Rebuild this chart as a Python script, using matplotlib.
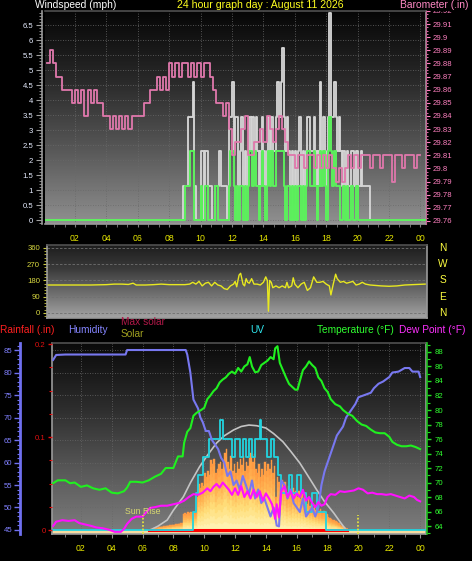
import numpy as np
import matplotlib
matplotlib.use('Agg')
import matplotlib.pyplot as plt
from matplotlib.colors import LinearSegmentedColormap
from matplotlib.ticker import MultipleLocator, FixedLocator, FuncFormatter, NullFormatter
from matplotlib.collections import PolyCollection
import matplotlib.transforms as mtransforms

plt.rcParams['font.family'] = ['Liberation Sans', 'DejaVu Sans']

# ---------------- data ----------------
hour_ticks = [2, 4, 6, 8, 10, 12, 14, 16, 18, 20, 22, 24]
hour_labels = ['02', '04', '06', '08', '10', '12', '14', '16', '18', '20', '22', '00']
day_start = 0.1
day_end = 24.3

# wind (mph), sampled every 0.1 h from 8.9 h; calm outside this window
wind_start = 8.9
wind_step = 0.1
gust = [
    1.15, 1.15, 1.15, 3.45, 3.45, 3.45, 4.6, 1.15, 0, 0,
    0, 2.3, 2.3, 0, 2.3, 2.3, 1.15, 1.15, 0, 0,
    1.15, 1.15, 1.15, 2.3, 1.15, 1.15, 1.15, 1.15, 0, 3.45,
    3.45, 4.6, 2.3, 3.45, 3.45, 1.15, 2.3, 3.45, 1.15, 2.3,
    1.15, 2.3, 3.45, 2.3, 3.45, 2.3, 3.45, 2.3, 1.15, 2.3,
    3.45, 2.3, 1.15, 2.3, 3.45, 2.3, 3.45, 2.3, 2.3, 3.45,
    4.6, 3.45, 4.6, 5.75, 3.45, 2.3, 3.45, 2.3, 1.15, 2.3,
    1.15, 2.3, 1.15, 2.3, 3.45, 1.15, 2.3, 1.15, 2.3, 3.45,
    3.45, 2.3, 2.3, 3.45, 2.3, 1.15, 2.3, 4.6, 2.3, 3.45,
    2.3, 1.15, 3.45, 6.9, 3.45, 3.45, 4.6, 3.45, 2.3, 3.45,
    2.3, 1.15, 2.3, 1.15, 2.3, 1.15, 1.15, 2.3, 2.3, 1.15,
    2.3, 1.15, 1.15, 2.3, 1.15, 1.15, 1.15, 1.15, 1.15, 0,
]
speed = [
    0, 1.15, 1.15, 1.15, 2.3, 2.3, 2.3, 0, 0, 0,
    0, 1.15, 0, 0, 1.15, 1.15, 0, 0, 0, 0,
    1.15, 1.15, 0, 0, 0, 0, 0, 0, 0, 1.15,
    2.3, 2.3, 1.15, 0, 1.15, 0, 1.15, 1.15, 0, 1.15,
    0, 1.15, 2.3, 2.3, 1.15, 2.3, 1.15, 1.15, 0, 1.15,
    2.3, 1.15, 0, 1.15, 2.3, 1.15, 2.3, 1.15, 1.15, 2.3,
    2.3, 2.3, 2.3, 2.3, 1.15, 0, 1.15, 1.15, 0, 1.15,
    0, 1.15, 0, 1.15, 1.15, 0, 1.15, 0, 1.15, 2.3,
    2.3, 1.15, 1.15, 2.3, 1.15, 0, 1.15, 2.3, 1.15, 2.3,
    1.15, 0, 2.3, 3.45, 2.3, 1.15, 2.3, 1.15, 1.15, 1.15,
    0, 0, 1.15, 0, 1.15, 0, 0, 1.15, 0, 0,
    1.15, 0, 0, 0, 0, 0, 0, 0, 0, 0,
]

# barometer (in), every 0.2 h from 0.2 h
baro_start = 0.2
baro_step = 0.2
baro = [
    29.88, 29.89, 29.88, 29.87, 29.87, 29.86, 29.86, 29.86, 29.85, 29.86,
    29.85, 29.86, 29.84, 29.86, 29.85, 29.86, 29.85, 29.85, 29.84, 29.84,
    29.83, 29.84, 29.83, 29.84, 29.83, 29.84, 29.83, 29.84, 29.84, 29.84,
    29.84, 29.85, 29.85, 29.86, 29.86, 29.87, 29.86, 29.87, 29.86, 29.88,
    29.87, 29.88, 29.87, 29.88, 29.88, 29.87, 29.88, 29.87, 29.88, 29.87,
    29.88, 29.88, 29.87, 29.86, 29.85, 29.85, 29.84, 29.85, 29.83, 29.81,
    29.82, 29.82, 29.83, 29.84, 29.81, 29.81, 29.82, 29.82, 29.83, 29.82,
    29.84, 29.83, 29.82, 29.83, 29.84, 29.83, 29.82, 29.81, 29.81, 29.80,
    29.81, 29.81, 29.80, 29.81, 29.81, 29.80, 29.81, 29.80, 29.81, 29.80,
    29.81, 29.80, 29.79, 29.80, 29.79, 29.80, 29.81, 29.80, 29.81, 29.80,
    29.81, 29.81, 29.81, 29.80, 29.81, 29.81, 29.80, 29.81, 29.81, 29.81,
    29.79, 29.81, 29.81, 29.80, 29.81, 29.81, 29.81, 29.80, 29.81, 29.81,
]

# wind direction (deg)
dir_t = [0.3, 1, 2, 3, 4, 4.5, 5, 5.4, 5.7, 5.9, 6.5, 7, 7.5, 8, 9, 9.3, 9.5, 9.7, 9.9,
         10.1, 10.3, 10.5, 10.7, 10.9, 11.1, 11.3, 11.5, 11.7, 11.9, 12.1, 12.2, 12.3,
         12.45, 12.55, 12.7, 12.8, 12.9, 13.0, 13.1, 13.25, 13.4, 13.6, 13.8, 14.0, 14.15,
         14.25, 14.32, 14.4, 14.5, 14.6, 14.8, 15.0, 15.2, 15.4, 15.5, 15.6, 15.8, 15.9,
         16.0, 16.2, 16.4, 16.6, 16.8, 17.0, 17.2, 17.4, 17.6, 17.8, 18.0, 18.2, 18.3,
         18.45, 18.6, 18.7, 18.9, 19.1, 19.3, 19.5, 19.7, 19.9, 20.1, 20.3, 20.5, 20.8,
         21.5, 22.0, 22.5, 23.0, 23.5, 24.3]
dir_v = [155, 155, 155, 155, 157, 160, 160, 158, 165, 155, 155, 157, 160, 157, 157, 160, 170, 160, 175,
         150, 165, 170, 150, 170, 155, 150, 135, 130, 150, 160, 175, 145,
         210, 220, 160, 150, 190, 170, 165, 190, 160, 160, 155, 170, 200,
         180, 10, 180, 170, 140, 150, 140, 150, 140, 170, 140, 150, 195,
         160, 140, 160, 170, 125, 140, 200, 170, 170, 175, 160, 150, 100,
         160, 215, 190, 170, 175, 165, 170, 175, 155, 160, 170, 160, 155,
         150, 148, 150, 155, 157, 160]

# humidity (%)
hum_t = [0.2, 0.4, 1, 2, 3, 4, 4.9, 5.0, 6, 7, 8, 8.8, 8.9, 9.0, 9.1, 9.2, 9.3, 9.45, 9.6, 9.75,
         9.9, 10.1, 10.3, 10.5, 10.7, 10.9, 11.1, 11.3, 11.5, 11.7, 11.9, 12.1, 12.3, 12.5,
         12.7, 12.9, 13.1, 13.3, 13.5, 13.7, 13.9, 14.1, 14.3, 14.5, 14.7, 14.85, 15.0, 15.2,
         15.4, 15.6, 15.8, 16.0, 16.2, 16.4, 16.6, 16.8, 17.0, 17.2, 17.4, 17.6, 17.8, 18.0,
         18.2, 18.4, 18.6, 18.8, 19.0, 19.2, 19.4, 19.6, 19.8, 20.0, 20.4, 20.8, 21.0, 21.3,
         21.6, 22.0, 22.2, 22.6, 23.0, 23.3, 23.5, 23.9, 24.0]
hum = [82.8, 83.9, 84, 84, 84, 84, 84, 85, 85, 85, 85, 85, 84, 82, 80, 77, 74, 73, 72, 70,
       69, 67, 67, 65, 64, 63, 61, 60, 57, 58, 55, 56, 54, 57,
       55, 53, 56, 52, 54, 51, 52, 50, 48, 50, 46, 45.8, 56, 55,
       52, 54, 51, 50, 49, 52, 48, 49, 50, 48, 50, 55, 58, 60,
       62, 64, 66, 67, 68, 70, 71, 72, 73, 74.5, 75, 75.5, 76.5, 77.5,
       78, 79, 80, 80.2, 81, 81, 80.2, 80.2, 79]

# temperature (F)
temp_t = [0.2, 0.5, 1.0, 1.3, 1.6, 2.0, 2.4, 2.8, 3.2, 3.6, 4.0, 4.4, 4.8, 5.0, 5.2, 5.6, 6.0,
          6.4, 6.8, 7.2, 7.5, 8.0, 8.3, 8.6, 8.7, 8.9, 9.1, 9.3, 9.5, 9.8, 10.0, 10.2, 10.4,
          10.6, 10.8, 11.0, 11.2, 11.4, 11.6, 11.8, 12.0, 12.2, 12.4, 12.6, 12.8, 12.95, 13.1,
          13.3, 13.5, 13.7, 13.9, 14.1, 14.3, 14.5, 14.6, 14.75, 14.9, 15.1, 15.3, 15.5, 15.7,
          15.9, 16.05, 16.2, 16.4, 16.6, 16.8, 17.0, 17.2, 17.4, 17.6, 17.8, 18.0, 18.2, 18.5,
          18.8, 19.0, 19.3, 19.6, 19.9, 20.2, 20.5, 20.8, 21.1, 21.4, 21.7, 22.0, 22.2, 22.5,
          22.8, 23.1, 23.4, 23.7, 24.0]
temp = [69.9, 70.3, 70.3, 69.9, 70.0, 69.4, 69.6, 69.2, 69.0, 69.2, 68.6, 68.5, 68.8, 69.3, 70.1, 70.1, 70.0,
        70.3, 70.8, 71.2, 72.0, 72.0, 73.6, 73.6, 75.5, 77.0, 77.5, 79.2, 79.6, 80.0, 80.3, 81.5, 82.0,
        82.6, 83.0, 83.8, 84.2, 84.5, 85.0, 85.3, 85.0, 85.8, 85.3, 86.0, 86.3, 87.3, 86.0,
        85.2, 85.3, 86.2, 86.5, 86.8, 87.3, 87.0, 88.5, 88.8, 86.5, 85.5, 84.5, 83.6, 83.2,
        82.8, 82.8, 84.0, 85.5, 86.0, 86.7, 86.2, 85.8, 84.5, 84.0, 83.0, 82.5, 81.5, 80.8,
        80.5, 80.0, 79.5, 79.2, 78.5, 78.0, 77.8, 77.3, 76.9, 76.8, 76.8, 76.3, 75.6, 75.2,
        75.0, 75.0, 75.1, 74.9, 74.6]

# dew point (F)
dew_t = [0.2, 0.4, 0.8, 1.2, 1.6, 1.9, 2.3, 2.7, 3.0, 3.4, 3.8, 4.2, 4.6, 4.8, 5.0, 5.3, 5.6, 6.0,
         6.2, 6.5, 6.8, 7.2, 7.6, 8.0, 8.4, 8.7, 9.0, 9.3, 9.6, 9.9, 10.2, 10.4, 10.6, 10.8, 11.0,
         11.2, 11.4, 11.6, 11.8, 12.0, 12.2, 12.4, 12.6, 12.8, 13.0, 13.2, 13.4, 13.6, 13.8, 14.0,
         14.2, 14.4, 14.6, 14.7, 14.85, 15.0, 15.2, 15.4, 15.6, 15.8, 16.0, 16.2, 16.4, 16.6, 16.8,
         17.0, 17.2, 17.4, 17.6, 17.8, 18.0, 18.2, 18.5, 18.8, 19.1, 19.4, 19.7, 20.0, 20.3, 20.6,
         20.9, 21.2, 21.5, 21.8, 22.1, 22.4, 22.7, 23.0, 23.3, 23.6, 23.8, 24.0]
dew = [64.0, 64.6, 64.8, 64.7, 64.8, 64.4, 64.2, 64.0, 63.8, 63.7, 63.5, 63.2, 63.2, 63.6, 64.3, 65.0, 65.3, 65.3,
       65.8, 66.5, 66.6, 66.8, 66.8, 67.0, 67.2, 67.5, 68.0, 68.4, 68.3, 68.6, 69.2, 68.8, 69.4, 69.8, 69.3,
       70.0, 69.5, 69.0, 68.3, 69.2, 68.3, 69.5, 68.0, 68.8, 67.8, 69.0, 68.0, 68.8, 67.5, 68.5,
       67.8, 67.0, 65.0, 67.0, 65.2, 68.8, 69.5, 68.0, 68.8, 67.8, 68.5, 68.0, 69.0, 67.5, 68.0,
       67.2, 66.6, 67.3, 66.8, 67.0, 68.0, 68.4, 68.3, 68.8, 68.7, 68.8, 68.9, 69.2, 69.0, 68.5,
       68.6, 68.4, 68.4, 68.3, 68.4, 68.2, 68.0, 67.8, 68.2, 68.0, 67.6, 67.4]

# solar radiation (W/m2), every 0.1 h from 6.4 h
solar_start = 6.4
solar_step = 0.1
solar = [
    0, 5, 10, 14, 18, 22, 25, 28, 30, 33, 35, 38, 40, 42, 45, 47, 50, 52, 55, 57, 60, 62,
    150, 155, 150, 160, 155, 160, 150, 165, 160,
    300, 420, 380, 430, 400,
    520, 480, 540, 500, 640, 600, 650, 520, 560, 600,
    620, 560, 640, 700, 740, 620, 560, 680, 540, 600,
    520, 620, 560, 650, 590, 680, 540, 620, 580, 660,
    700, 620, 690, 560, 520, 600, 480, 560, 500, 620,
    540, 600, 560, 640, 520, 580, 300, 480, 440, 420,
    460, 380, 440, 330, 400, 350, 300, 380, 320, 360,
    300, 360, 280, 330, 260, 300, 240, 280, 220, 250,
    200, 230, 180, 200, 170, 190, 160, 170, 140, 150,
    120, 110, 100, 95, 90, 80, 70, 60, 50, 40,
    30, 20, 10, 0,
]

# theoretical max solar (W/m2)
maxsol_t = [6.5, 7.0, 7.6, 8.0, 8.65, 9.1, 9.7, 10.2, 10.8, 11.3, 11.9, 12.4, 12.9, 13.4,
            14.0, 14.5, 15.1, 15.6, 16.2, 16.7, 17.3, 17.8, 18.4, 18.8, 19.2]
maxsol = [0, 35, 91, 180, 304, 430, 578, 680, 794, 860, 913, 945, 958, 952,
          931, 880, 806, 720, 611, 500, 365, 260, 155, 76, 0]

# UV index (step changes)
uv_t = [0.13, 8.5, 9.3, 9.45, 9.6, 9.9, 10.3, 11.0, 11.2, 11.8, 12.0, 12.3, 12.5, 12.7, 12.9,
        13.1, 13.3, 13.6, 13.7, 14.1, 14.3, 14.5, 14.8, 15.0, 15.5, 15.7, 16.0, 16.3, 16.6,
        17.0, 17.3, 17.9, 24.38]
uv = [0, 0, 1, 2, 3, 4, 5, 6, 5, 4, 5, 4, 5, 4, 5,
      4, 5, 6, 5, 4, 5, 4, 3, 2, 3, 2, 3, 2, 1,
      2, 1, 0, 0]

# rainfall (in)
rain_t = [6.4, 19.25]
rain = [0.0, 0.0]

sunrise = 6.03
sunset = 19.95

# ---------------- figure ----------------
W, H = 472, 561
fig = plt.figure(figsize=(W / 100, H / 100), dpi=100, facecolor='black')


def rect(l, t, r, b):
    return [l / W, 1 - b / H, (r - l) / W, (b - t) / H]


def gradient(ax, colors):
    cmap = LinearSegmentedColormap.from_list('g', colors)
    g = np.linspace(0, 1, 256).reshape(-1, 1)
    ax.imshow(g, cmap=cmap, aspect='auto', extent=[0, 1, 0, 1], origin='upper',
              transform=ax.transAxes, zorder=0, interpolation='bilinear')


def overlay(r):
    a = fig.add_axes(r)
    a.patch.set_visible(False)
    for s in a.spines.values():
        s.set_visible(False)
    a.set_xticks([])
    a.set_yticks([])
    return a


def frame(ax):
    ax.set_facecolor('black')
    for k, s in ax.spines.items():
        s.set_color('#9a9a9a')
        s.set_linewidth(1.2)
    ax.spines['top'].set_color('#505050')


TICK_FS = 5.6
fmt_g = FuncFormatter(lambda v, p: '%g' % round(v, 4))

# ---------- top panel: wind + barometer ----------
rw = rect(45, 11, 426, 224)
axw = fig.add_axes(rw)
frame(axw)
gradient(axw, ['#060606', '#2a2a2a', '#5a5a5a', '#909090'])
xl_top = (0.089, 24.36)
axw.set_xlim(*xl_top)
axw.set_ylim(-0.133, 6.97)
axw.yaxis.set_major_locator(MultipleLocator(0.5))
axw.yaxis.set_minor_locator(MultipleLocator(0.1))
axw.yaxis.set_major_formatter(fmt_g)
axw.spines['left'].set_position(('outward', 2))
axw.tick_params(axis='y', which='major', length=4, width=0.8, color='#a0a0a0',
                labelcolor='#e6ecff', labelsize=TICK_FS, pad=2.5)
axw.tick_params(axis='y', which='minor', length=2, width=0.6, color='#a0a0a0')
axw.set_xticks(hour_ticks)
axw.xaxis.set_minor_locator(MultipleLocator(2 / 3))
axw.tick_params(axis='x', which='both', length=2, color='#808080', labelbottom=False)
axw.grid(True, which='major', axis='both', color='#6a6a6a', linestyle=(0, (1, 2)), linewidth=0.6)
axw.set_axisbelow(True)

axp = overlay(rw)
axp.set_xlim(*xl_top)
axp.set_ylim(29.7577, 29.92)
axp.spines['right'].set_visible(True)
axp.spines['right'].set_color('#c06090')
axp.yaxis.tick_right()
axp.yaxis.set_major_locator(MultipleLocator(0.01))
axp.yaxis.set_minor_locator(MultipleLocator(0.0025))
axp.yaxis.set_major_formatter(fmt_g)
axp.tick_params(axis='y', which='major', length=3, width=0.8, color='#ff80c0',
                labelcolor='#ff80c0', labelsize=TICK_FS, pad=2)
axp.tick_params(axis='y', which='minor', length=1.5, width=0.6, color='#ff80c0')

w_t = np.concatenate([[day_start], wind_start + wind_step * np.arange(len(gust)), [day_end]])
g_v = np.concatenate([[0], gust, [0]])
s_v = np.concatenate([[0], speed, [0]])
axw.step(w_t, g_v, where='post', color='#d4d4d4', lw=1.35, zorder=3)
axw.step(w_t, s_v, where='post', color='#5cf05c', lw=1.4, zorder=4)
b_t = baro_start + baro_step * np.arange(len(baro))
axw.step(b_t, baro, where='post', color='#e078ac', lw=1.3, zorder=5, transform=axp.transData)

# ---------- middle panel: wind direction ----------
rd = rect(47, 245, 427, 318)
axd = fig.add_axes(rd)
frame(axd)
gradient(axd, ['#1c1c1c', '#3a3a3a', '#6e6e6e', '#a4a4a4'])
axd.set_xlim(0.217, 24.42)
axd.set_ylim(-27.7, 376.6)
axd.set_yticks([0, 90, 180, 270, 360])
axd.yaxis.set_minor_locator(MultipleLocator(18))
axd.tick_params(axis='y', which='major', length=3, width=0.8, color='#c8c840',
                labelcolor='#d8d840', labelsize=TICK_FS, pad=2)
axd.tick_params(axis='y', which='minor', length=2, width=0.6, color='#c8c840')
axd.set_xticks(hour_ticks)
axd.set_xticklabels(hour_labels)
axd.xaxis.set_minor_locator(MultipleLocator(1))
axd.tick_params(axis='x', which='both', top=True, bottom=False, labeltop=True, labelbottom=False,
                length=0, labelcolor='#e8e800', labelsize=6.3, pad=1.5)
axd.grid(True, which='major', axis='y', color='#707070', linestyle=(0, (3, 2)), linewidth=0.6)
axd.set_axisbelow(True)
axd.plot(dir_t, dir_v, color='#e8e820', lw=1.0, zorder=3)
bl = mtransforms.blended_transform_factory(axd.transAxes, axd.transData)
for lab, d in zip(['N', 'W', 'S', 'E', 'N'], [360, 270, 180, 90, 0]):
    axd.text(1.042, d, lab, transform=bl, color='#ffff40', fontsize=7.3,
             ha='center', va='center')

# ---------- bottom panel ----------
rb = rect(52, 343, 426, 534)
xl_bot = (0.13, 24.38)
axh = fig.add_axes(rb)
frame(axh)
gradient(axh, ['#0a0a0a', '#2c2c2c', '#585858', '#7e7e7e'])
axh.set_xlim(*xl_bot)
axh.set_ylim(44.11, 86.56)
axh.yaxis.set_major_locator(MultipleLocator(5))
axh.tick_params(axis='y', which='both', left=False, labelleft=False)
axh.set_xticks(hour_ticks)
axh.set_xticklabels(hour_labels)
axh.xaxis.set_minor_locator(MultipleLocator(1))
axh.tick_params(axis='x', which='major', length=3, color='#909090', labelcolor='#e8e800',
                labelsize=6.3, pad=4.5)
axh.tick_params(axis='x', which='minor', length=2, color='#909090')
axh.grid(True, which='major', axis='both', color='#686868', linestyle=(0, (1, 2)), linewidth=0.6)
axh.set_axisbelow(True)

# humidity tick axis
ahs = overlay(rb)
ahs.set_xlim(*xl_bot)
ahs.set_ylim(44.11, 86.56)
ahs.spines['left'].set_visible(True)
ahs.spines['left'].set_position(('outward', 23))
ahs.spines['left'].set_color('#7070f0')
ahs.spines['left'].set_linewidth(2)
ahs.yaxis.tick_left()
ahs.yaxis.set_major_locator(MultipleLocator(5))
ahs.yaxis.set_minor_locator(MultipleLocator(1))
ahs.tick_params(axis='y', which='major', length=4, width=1, color='#7070f0',
                labelcolor='#8080ff', labelsize=TICK_FS, pad=1.5)
ahs.tick_params(axis='y', which='minor', length=2.5, width=0.8, color='#7070f0')

# rain tick axis
ar = overlay(rb)
ar.set_xlim(*xl_bot)
ar.set_ylim(-0.0043, 0.2011)
ar.yaxis.tick_left()
ar.set_yticks([0, 0.1, 0.2])
ar.yaxis.set_major_formatter(fmt_g)
ar.yaxis.set_minor_locator(MultipleLocator(0.025))
ar.tick_params(axis='y', which='major', length=3, width=1, color='#e01010',
               labelcolor='#e01010', labelsize=TICK_FS, pad=1.5)
ar.tick_params(axis='y', which='minor', length=2, width=0.8, color='#e01010')

# temperature tick axis
at = overlay(rb)
at.set_xlim(*xl_bot)
at.set_ylim(62.9, 89.24)
at.spines['right'].set_visible(True)
at.spines['right'].set_position(('outward', 1))
at.spines['right'].set_color('#20c020')
at.spines['right'].set_linewidth(1.2)
at.yaxis.tick_right()
at.yaxis.set_major_locator(MultipleLocator(2))
at.yaxis.set_minor_locator(MultipleLocator(1))
at.tick_params(axis='y', which='major', length=3, width=1, color='#20e020',
               labelcolor='#30ff30', labelsize=TICK_FS, pad=2.5)
at.tick_params(axis='y', which='minor', length=2, width=0.8, color='#20e020')

# solar and UV scale axes (hidden)
asol = overlay(rb)
asol.set_xlim(*xl_bot)
asol.set_ylim(-36.5, 1707)
auv = overlay(rb)
auv.set_xlim(*xl_bot)
auv.set_ylim(-0.22, 10.22)

# baseline strip
asol_bl = mtransforms.blended_transform_factory(axh.transAxes, asol.transData)
axh.fill_between([0, 1], -36.5, 0, transform=asol_bl, color='#f6dca0', lw=0, zorder=1.5)

# solar fill: each bar shaded from pale yellow (bottom) to orange (top)
cm_sol = LinearSegmentedColormap.from_list('sol', ['#fff2b0', '#ffdc78', '#ffb452', '#ff9a42'])
NSEG = 10
verts, cols = [], []
s_t = solar_start + solar_step * np.arange(len(solar))
for ti, v in zip(s_t, solar):
    if v <= 0:
        continue
    for k in range(NSEG):
        y0, y1 = v * k / NSEG, v * (k + 1) / NSEG
        verts.append([(ti, y0), (ti + solar_step, y0), (ti + solar_step, y1), (ti, y1)])
        cols.append(cm_sol(k / (NSEG - 1)))
pc = PolyCollection(verts, facecolors=cols, edgecolors=cols, linewidths=0.3,
                    transform=asol.transData, zorder=2)
axh.add_collection(pc, autolim=False)

axh.plot(maxsol_t, maxsol, color='#c4c4c4', lw=1.2, zorder=3, transform=asol.transData)
axh.plot(rain_t, rain, color='#ff0000', lw=2.2, zorder=3.5, transform=ar.transData)
axh.step(uv_t, uv, where='post', color='#22d4e0', lw=1.3, zorder=4, transform=auv.transData)
axh.plot(hum_t, hum, color='#7878f0', lw=1.5, zorder=5)
axh.plot(dew_t, dew, color='#ff10ff', lw=1.5, zorder=6, transform=at.transData)
axh.plot(temp_t, temp, color='#20f020', lw=1.5, zorder=7, transform=at.transData)

sbl = mtransforms.blended_transform_factory(axh.transData, axh.transAxes)
for tt in (sunrise, sunset):
    axh.plot([tt, tt], [0, 0.1], transform=sbl, color='#e0e040', ls=(0, (1, 1)), lw=1.3, zorder=8)
axh.text(sunrise, 0.12, 'Sun Rise', transform=sbl, color='#d8d870', fontsize=6.3,
         ha='center', va='center', zorder=9)

# ---------- texts ----------
def ftext(x, y, s, c, ha='left', fs=7.3):
    fig.text(x / W, 1 - y / H, s, color=c, fontsize=fs, ha=ha, va='center')

ftext(35, 5.5, 'Windspeed (mph)', '#ffffff', fs=7.4)
ftext(260, 5.5, '24 hour graph day : August 11 2026', '#ffff20', ha='center', fs=7.6)
ftext(468, 5.5, 'Barometer (.in)', '#ff88c4', ha='right', fs=7.4)
ftext(0, 330, 'Rainfall (.in)', '#ff2020')
ftext(68, 330, 'Humidity', '#8484ff')
ftext(121, 322, 'Max solar', '#b01848')
ftext(121, 334, 'Solar', '#a0a020')
ftext(250, 330, 'UV', '#30e8f0')
ftext(317, 330, 'Temperature (°F)', '#30ff30')
ftext(399, 330, 'Dew Point (°F)', '#ff30ff')

# the top barometer label sits partly under the title row, as in the original
fig.canvas.draw()
clip_bb = mtransforms.TransformedBbox(
    mtransforms.Bbox([[0, 0], [1, 1 - 10.5 / H]]), fig.transFigure)
for tk in axp.yaxis.get_major_ticks():
    tk.label2.set_clip_box(clip_bb)
    tk.label2.set_clip_on(True)

fig.savefig('out.png', dpi=100, facecolor='black')
